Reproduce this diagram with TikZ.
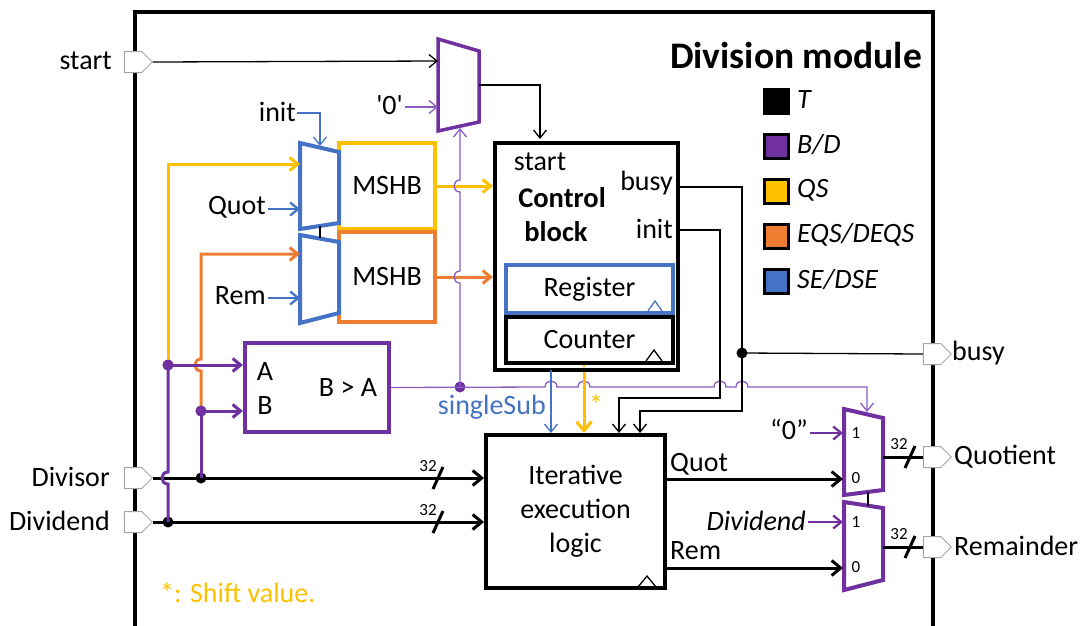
\documentclass[tikz,border=0pt]{standalone}
\usepackage{fontspec}
\setmainfont{Carlito}
\newfontfamily\rawfont{Carlito}[Ligatures=TeXOff]
\usetikzlibrary{arrows.meta,shapes.symbols,calc}
\definecolor{cY}{HTML}{FFC000}
\definecolor{cO}{HTML}{ED7D31}
\definecolor{cP}{HTML}{7030A0}
\definecolor{cPl}{HTML}{8B5CC2}
\definecolor{cB}{HTML}{4472C4}
\definecolor{cG}{HTML}{A6A6A6}
\begin{document}
\begin{tikzpicture}[x=1pt,y=-1pt,
  font=\fontsize{28}{30}\selectfont,
  thinw/.style={line width=1.3pt},
  medw/.style={line width=2.3pt},
  thickw/.style={line width=3pt},
  boxw/.style={line width=4pt},
  arr/.style={-{Straight Barb[length=8pt,width=13pt]}},
  arrb/.style={-{Straight Barb[length=9pt,width=15pt]}},
  portshape/.style={signal, signal to=east, draw=cG, fill=white, line width=1pt, minimum width=28pt, minimum height=21pt, inner sep=0pt},
  lbl/.style={inner sep=0pt},
  smalltxt/.style={font=\fontsize{17}{18}\selectfont, inner sep=0pt},
  jdot/.style={circle, fill, inner sep=0pt, minimum size=11pt},
  legbox/.style={draw=black, line width=3pt, minimum size=24pt, inner sep=0pt},
]
\useasboundingbox (0,0) rectangle (1084,625);
% frame
\draw[boxw] (135,627) -- (135,12) -- (933,12) -- (933,627);

% title and legend
\node[lbl, anchor=east, font=\fontsize{37.5}{40}\selectfont\bfseries] (title) at (922,55) {Division module};
\node[legbox, fill=black] (lT) at (776,101) {};
\node[legbox, fill=cP] (lBD) at (776,146) {};
\node[legbox, fill=cY] (lQS) at (776,191) {};
\node[legbox, fill=cO] (lEQ) at (776,236) {};
\node[legbox, fill=cB] (lSE) at (776,281) {};
\node[lbl, anchor=west, font=\fontsize{28}{30}\selectfont\itshape] (tT) at (797,100) {T};
\node[lbl, anchor=west, font=\fontsize{28}{30}\selectfont\itshape] (tBD) at (797,145) {B/D};
\node[lbl, anchor=west, font=\fontsize{28}{30}\selectfont\itshape] (tQS) at (797,190) {QS};
\node[lbl, anchor=west, font=\fontsize{28}{30}\selectfont\itshape] (tEQ) at (797,235) {EQS/DEQS};
\node[lbl, anchor=west, font=\fontsize{28}{30}\selectfont\itshape] (tSE) at (797,280) {SE/DSE};

% control block
\node[draw, boxw, minimum width=183pt, minimum height=227pt, inner sep=0pt] (ctrl) at (586.5,256.5) {};
\node[draw=cB, line width=4pt, minimum width=167pt, minimum height=48pt, inner sep=0pt] (reg) at (589.5,289) {Register};
\node[draw, line width=4pt, minimum width=167pt, minimum height=46pt, inner sep=0pt] (cnt) at (589.5,340) {Counter};
\draw[cB, thinw] (648,311) -- (655,301) -- (662,311);
\draw[thinw] (646,361) -- (654,350) -- (662,361);
\node[lbl] (tcs) at (540,162) {start};
\node[lbl, font=\fontsize{28.5}{30}\selectfont\bfseries] (tcc) at (562,198) {Control};
\node[lbl, font=\fontsize{28.5}{30}\selectfont\bfseries] (tcb) at (556,232) {block};
\node[lbl, anchor=east] (tcbusy) at (673,183) {busy};
\node[lbl, anchor=east] (tcinit) at (673,229) {init};

% iterative execution logic
\node[draw, boxw, minimum width=179pt, minimum height=153pt, inner sep=0pt, align=center, font=\fontsize{28}{34}\selectfont] (iel) at (575.5,511.5) {Iterative\\execution\\logic};
\draw[thinw] (638,587) -- (647,576) -- (656,587);

% comparator
\node[draw=cP, boxw, minimum width=144pt, minimum height=89pt, inner sep=0pt] (cmp) at (317,387.5) {};
\node[lbl] (tA) at (265,372) {A};
\node[lbl] (tB) at (265,406) {B};
\node[lbl] (tBA) at (348,388) {B > A};

% MSHB boxes
\node[draw=cY, line width=3.5pt, minimum width=96pt, minimum height=86pt, inner sep=0pt] (mshbQ) at (387,186) {MSHB};
\node[draw=cO, line width=3.5pt, minimum width=96pt, minimum height=90pt, inner sep=0pt] (mshbR) at (387,277) {MSHB};

% blue muxes
\draw[cB, line width=4pt] (300,143) -- (339,152) -- (339,223) -- (300,229) -- cycle;
\draw[cB, line width=4pt] (300,235) -- (339,242) -- (339,313) -- (300,323) -- cycle;
\draw[thinw] (320,226) -- (320,238);

% top purple mux
\draw[cP, line width=3.5pt] (438,39) -- (479,51) -- (479,122) -- (438,131) -- cycle;
\coordinate (mTin1) at (438,61);
\coordinate (mTin2) at (438,107);
\coordinate (mTout) at (479,85);

% output muxes
\draw[cP, line width=4pt] (844,409) -- (883,418) -- (883,490) -- (844,495) -- cycle;
\draw[cP, line width=4pt] (844,502) -- (883,508) -- (883,580) -- (844,590) -- cycle;
\draw[thinw] (868,492) -- (868,506);
\node[smalltxt] (m1a) at (856,433) {1};
\node[smalltxt] (m0a) at (856,478) {0};
\node[smalltxt] (m1b) at (856,522) {1};
\node[smalltxt] (m0b) at (856,567) {0};

% ports
\node[portshape] (pStart) at (133,62) {};
\node[portshape] (pDiv) at (133,478) {};
\node[portshape] (pDvd) at (133,522) {};
\node[portshape] (pBusy) at (932,354) {};
\node[portshape] (pQuo) at (932,457) {};
\node[portshape] (pRem) at (932,547) {};
\node[lbl, anchor=east] (tStart) at (112,61) {start};
\node[lbl, anchor=east] (tDiv) at (110,477) {Divisor};
\node[lbl, anchor=east] (tDvd) at (110,521) {Dividend};
\node[lbl, anchor=west] (tBusy) at (952,353) {busy};
\node[lbl, anchor=west] (tQuo) at (954,457) {Quotient};
\node[lbl, anchor=west] (tRem) at (954,546) {Remainder};

% start path
\draw[thinw, arr] (pStart.east) -- (mTin1);
\node[lbl, anchor=east] (t0) at (403,105) {\rawfont '0'};
\draw[cPl, thinw, arr] (t0.east) ++(2,2) -- (mTin2);
\draw[thinw, arr] (mTout) -| ($(ctrl.north)+(-46.5,-2)$);

% MSHB outputs into control block
\draw[cY, thickw, arr] (mshbQ.east) -- (ctrl.west |- mshbQ.east);
\draw[cO, thickw, arr] (mshbR.east) -- (ctrl.west |- mshbR.east);

% singleSub vertical to top mux select (hops over yellow/orange)
\node[jdot, fill=cP] (dSS) at (460,387) {};
\draw[cPl, thinw, arr] (dSS.center) -- (460,283) .. controls (452,283) and (452,271) .. (460,271)
  -- (460,192) .. controls (452,192) and (452,180) .. (460,180) -- (460,128);

% singleSub horizontal to output mux select
\draw[cPl, thinw, arr] (cmp.east) -- (545,387) .. controls (545,379) and (557,379) .. (557,387)
  -- (578,387) .. controls (578,379) and (590,379) .. (590,387)
  -- (714,387) .. controls (714,379) and (726,379) .. (726,387)
  -- (736,387) .. controls (736,379) and (748,379) .. (748,387)
  -- (867,387) -- (867,412);
\node[lbl, cB, anchor=east] (tSS) at (546,407) {singleSub};

% control -> iterative
\draw[cB, thinw, arr] (551,370) -- (551,433);
\node[circle, fill=cY, inner sep=0pt, minimum size=3pt] (dY) at (584,366) {};
\draw[cY, thickw, arrb] (584,372) -- (584,433);
\node[lbl, cY] (tStar) at (596,405) {*};

% init and busy
\coordinate (cInit) at (ctrl.east |- 0,230);
\coordinate (cBusy) at (ctrl.east |- 0,187);
\draw[thinw, arr] (cInit) -- (720,230) -- (720,398) -- (619,398) -- (619,433);
\draw[thinw, arr] (cBusy) -- (742,187) -- (742,411) -- (640,411) -- (640,433);
\node[jdot] (dBusy) at (742,353) {};
\draw[thinw] (dBusy.center) -- (pBusy.west);

% data inputs
\draw[thickw, arrb] (pDiv.east) -- (iel.west |- pDiv.east);
\draw[thickw, arrb] (pDvd.east) -- (iel.west |- pDvd.east);
\draw[thickw] (433,489) -- (443,467);
\draw[thickw] (433,533) -- (443,511);
\node[smalltxt] (t32a) at (428,466) {32};
\node[smalltxt] (t32b) at (428,510) {32};
\node[jdot] (dDiv) at (201,478) {};
\node[jdot] (dDvd) at (168,522) {};

% purple/yellow/orange feed lines
\node[jdot, fill=cP] (dA) at (168,365) {};
\node[jdot, fill=cP] (dB) at (201,411) {};
\draw[cP, thickw] (dDvd.center) -- (168,484) .. controls (160,484) and (160,472) .. (168,472) -- (dA.center);
\draw[cP, thickw] (dDiv.center) -- (dB.center);
\draw[cY, thickw, arr] (dA.center) -- (168,164) -- (300,164);
\draw[cO, thickw, arr] (dB.center) -- (201,371) .. controls (193,371) and (193,359) .. (201,359) -- (201,254) -- (300,254);
\draw[cP, thickw, arr] (dA.center) -- (cmp.west |- dA.center);
\draw[cP, thickw, arr] (dB.center) -- (cmp.west |- dB.center);
\node[jdot, fill=cP] at (dA) {};
\node[jdot, fill=cP] at (dB) {};

% blue mux inputs
\node[lbl, anchor=east] (tInit) at (296,112) {init};
\draw[cB, thinw, arr] (tInit.east) ++(1,1) -| (320,146);
\node[lbl, anchor=east] (tQuot) at (266,207) {Quot};
\draw[cB, medw, arr] (268,209) -- (300,209);
\node[lbl, anchor=east] (tRemI) at (266,296) {Rem};
\draw[cB, medw, arr] (268,298) -- (300,298);

% outputs of iterative block
\draw[thickw, arrb] (iel.east |- 0,479) -- (843,479);
\draw[thickw, arrb] (iel.east |- 0,568) -- (843,568);
\node[lbl, anchor=west] (tQo) at (670,464) {Quot};
\node[lbl, anchor=west] (tRo) at (670,551) {Rem};

% constant inputs of output muxes
\node[lbl, anchor=east] (tZ) at (808,429) {“0”};
\draw[cP, medw, arr] (810,433) -- (843,433);
\node[lbl, anchor=east, font=\fontsize{28}{30}\selectfont\itshape] (tDI) at (806,521) {Dividend};
\draw[cP, medw, arr] (808,522) -- (843,522);

% mux outputs
\draw[thickw] (883,457) -- (pQuo.west);
\draw[thickw] (883,547) -- (pRem.west);
\draw[thickw] (905,468) -- (915,446);
\draw[thickw] (905,558) -- (915,536);
\node[smalltxt] (t32c) at (899,444) {32};
\node[smalltxt] (t32d) at (899,534) {32};

% footnote
\node[lbl, anchor=west, cY] (tFoot) at (160,593) {*: Shift value.};
\end{tikzpicture}
\end{document}
